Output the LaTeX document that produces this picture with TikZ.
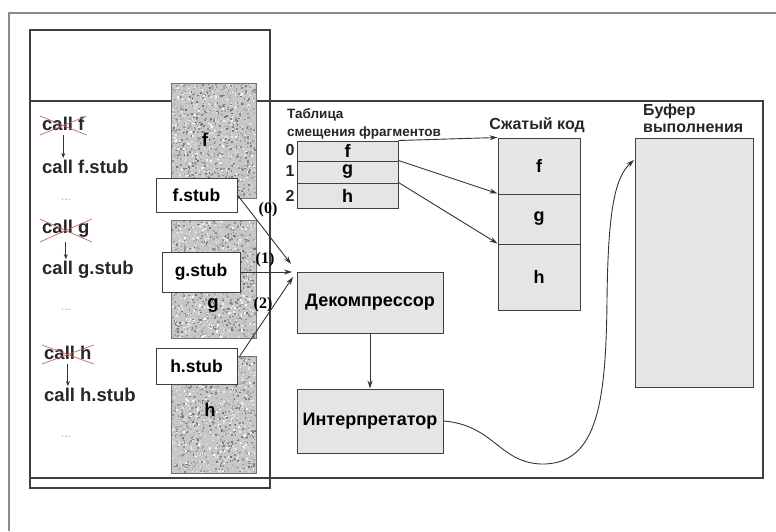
\documentclass[tikz,border=0pt]{standalone}
\usepackage{fontspec}
\setmainfont{Liberation Sans}
\newfontfamily\lserif{Liberation Serif}
\usetikzlibrary{arrows.meta,calc}
\newcommand\mySpeckle[4]{%
  \fill[black!22] (#1,#2) rectangle (#3,#4);
  \foreach \i in {1,...,1400}{%
    \pgfmathsetmacro\px{#1+rnd*(#3-#1-1.6)}%
    \pgfmathsetmacro\py{#2+rnd*(#4-#2-1.6)}%
    \pgfmathsetmacro\sh{int(45+rnd*55)}%
    \fill[white!\sh!black] (\px,\py) rectangle ++(1.6,1.6);
  }%
  \draw[black!55,line width=0.8pt] (#1,#2) rectangle (#3,#4);
}
\begin{document}
\begin{tikzpicture}[x=1pt,y=-1pt,
  frame/.style={draw=black!75,line width=1.1pt},
  outer/.style={draw=black!45,line width=1.3pt},
  stub/.style={draw=black!75,fill=white,line width=1pt,inner sep=0pt,
    font=\bfseries\fontsize{17.5}{17.5}\selectfont,minimum width=81pt},
  gbox/.style={draw=black!75,fill=black!10,line width=1pt,inner sep=0pt,
    font=\bfseries\fontsize{18}{18}\selectfont},
  big/.style={font=\bfseries\fontsize{18.5}{18.5}\selectfont,inner sep=0pt,text=black!85},
  mid/.style={font=\bfseries\fontsize{16}{16}\selectfont,inner sep=0pt,text=black!85},
  small/.style={font=\bfseries\fontsize{13.5}{13.5}\selectfont,inner sep=0pt,text=black!85},
  num/.style={font=\lserif\bfseries\fontsize{16}{16}\selectfont,inner sep=0pt},
  dots/.style={font=\fontsize{12}{12}\selectfont,inner sep=0pt,text=black!35},
  arr/.style={-{Stealth[length=8pt,width=5pt]},line width=0.9pt,draw=black!80},
  darr/.style={-{Stealth[length=5pt,width=4pt]},line width=0.8pt,draw=black!80},
  cross/.style={draw=red!60!black!60,line width=0.7pt},
]
\useasboundingbox (0,0) rectangle (776,531);
\pgfmathsetseed{7}
% outer frame (cropped)
\draw[outer] (9,531) -- (9,13) -- (776,13);
% inner memory box and main box
\draw[frame] (30,30) rectangle (270,488);
\draw[frame] (30,101) rectangle (763,478);
% code blocks
\mySpeckle{171}{83}{256}{198}
\mySpeckle{171}{220}{256}{338}
\mySpeckle{171}{356}{256}{473}
\node[big,text=black] (bf) at (205,140) {f};
\node[big,text=black] (bg) at (213,305) {g};
\node[big,text=black] (bh) at (210,410) {h};
% stubs
\node[stub,minimum height=34pt] (fs) at (196.5,195) {f.stub};
\node[stub,minimum width=78pt,minimum height=40pt] (gs) at (201,272) {g.stub};
\node[stub,minimum height=36pt] (hs) at (196.5,366) {h.stub};
% left calls
\node[big,anchor=west] (cf1) at (42,124) {call f};
\node[big,anchor=west] (cf2) at (42,167) {call f.stub};
\node[dots] (d1) at (66,200) {...};
\node[big,anchor=west] (cg1) at (42,229) {call g};
\node[big,anchor=west] (cg2) at (42,270) {call g.stub};
\node[dots] (d2) at (66,310) {...};
\node[big,anchor=west] (ch1) at (44,353) {call h};
\node[big,anchor=west] (ch2) at (44,395) {call h.stub};
\node[dots] (d3) at (66,437) {...};
\foreach \n in {cf1,cg1,ch1}{
  \draw[cross] ($(\n.north west)+(-2,-1)$) -- ($(\n.south east)+(2,4)$);
  \draw[cross] ($(\n.south west)+(-2,4)$) -- ($(\n.north east)+(2,-1)$);
}
\draw[darr] ($(cf1.south)+(0,4)$) -- ($(cf1.south |- cf2.north)+(0,-2)$);
\draw[darr] ($(cg1.south)+(0,4)$) -- ($(cg1.south |- cg2.north)+(0,-2)$);
\draw[darr] ($(ch1.south)+(0,4)$) -- ($(ch1.south |- ch2.north)+(0,-2)$);
% decompressor / interpreter
\node[gbox,minimum width=146pt,minimum height=61pt] (dec) at (370,302.5) {Декомпрессор};
\node[gbox,minimum width=146pt,minimum height=64pt] (int) at (370,421) {Интерпретатор};
\draw[arr] (dec.south) -- (int.north);
% stub arrows
\coordinate (e0) at (291,264);
\coordinate (e1) at (292,272);
\coordinate (e2) at (293,277);
\draw[arr] (fs.east) -- (e0);
\draw[arr] (gs.east) -- (e1);
\draw[arr] ($(hs.north east)+(2,9)$) -- (e2);
\node[num] (n0) at (268,210) {(0)};
\node[num] (n1) at (265,260) {(1)};
\node[num] (n2) at (263,305) {(2)};
% offset table
\node[small,anchor=west] (tt1) at (287,115) {Таблица};
\node[small,anchor=west] (tt2) at (287,133) {смещения фрагментов};
\node[gbox,minimum width=101pt,minimum height=20pt] (tf) at (347.5,151) {f};
\node[gbox,minimum width=101pt,minimum height=22pt] (tg) at (347.5,172) {g};
\node[gbox,minimum width=101pt,minimum height=25pt] (th) at (347.5,195.5) {h};
\node[mid] (r0) at (290,150) {0};
\node[mid] (r1) at (290,171) {1};
\node[mid] (r2) at (290,196) {2};
% compressed code
\node[mid] (ct) at (537,125) {Сжатый код};
\node[gbox,minimum width=82pt,minimum height=56pt] (cf) at (539,166) {f};
\node[gbox,minimum width=82pt,minimum height=50pt] (cg) at (539,219) {g};
\node[gbox,minimum width=82pt,minimum height=66pt] (ch) at (539,277) {h};
\draw[arr] (tf.north east) -- (cf.north west);
\draw[arr] (tg.north east) -- (cg.north west);
\draw[arr] (th.north east) -- (ch.north west);
% execution buffer
\node[mid,anchor=west] (bt1) at (643,111) {Буфер};
\node[mid,anchor=west] (bt2) at (643,128) {выполнения};
\node[gbox,minimum width=118pt,minimum height=249pt] (buf) at (694,262.5) {};
\coordinate (bin) at (634,160);
\draw[arr] (int.east) .. controls (495,425) and (500,465) .. (545,464)
  .. controls (598,462) and (606,400) .. (607,300)
  .. controls (608,215) and (614,178) .. (bin);
\end{tikzpicture}
\end{document}
